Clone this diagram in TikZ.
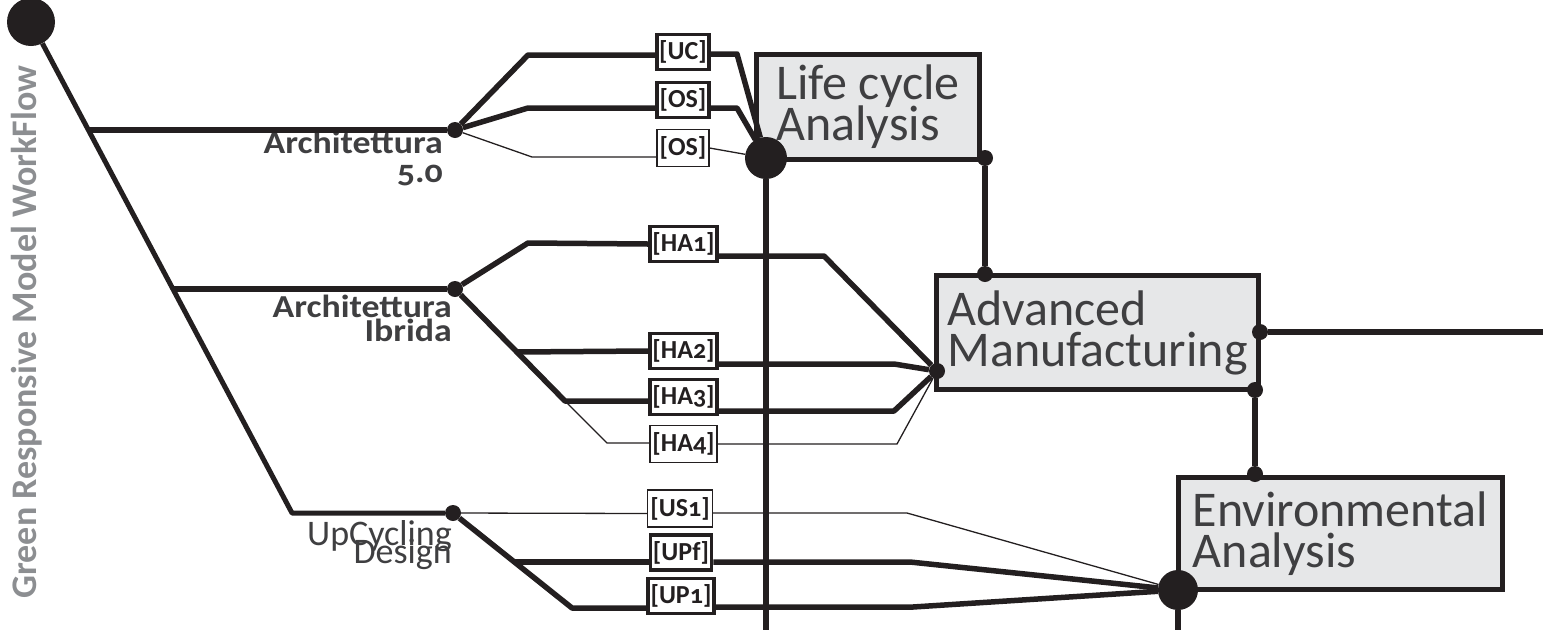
\documentclass[tikz,border=0pt]{standalone}
\usepackage{fontspec}
\setmainfont{Carlito}[Numbers=OldStyle]
\newfontfamily\lblfont{Carlito}[FakeStretch=1.12, Numbers=OldStyle]
\usetikzlibrary{positioning}
\definecolor{ink}{HTML}{231F20}
\definecolor{boxgray}{HTML}{E6E7E8}
\definecolor{textgray}{HTML}{3F3F41}
\definecolor{titlegray}{HTML}{8C8E91}
\lineskiplimit=-100pt

\begin{document}
\begin{tikzpicture}[
  x=1pt, y=-1pt,
  phase/.style={draw=ink, line width=5pt, fill=boxgray, align=left, inner sep=0pt, text=textgray, font=\fontsize{50}{41}\selectfont},
  tag/.style={draw=ink, line width=3.8pt, fill=white, inner xsep=2.5pt, inner ysep=0pt, minimum height=35pt, text=ink, font=\fontsize{26}{26}\selectfont\bfseries},
  tagthin/.style={tag, line width=1.3pt, minimum height=37pt},
  branch/.style={text=textgray, align=right, inner sep=0pt},
  dot/.style={circle, fill=ink, inner sep=0pt, minimum size=16pt},
  bigdot/.style={dot, minimum size=42pt},
  wire/.style={draw=ink, line width=5.5pt, line join=round},
  thinwire/.style={draw=ink, line width=1.3pt, line join=round}
]
\useasboundingbox (0,0) rectangle (1543,630);

% phases
\node[phase, minimum width=223pt, minimum height=105pt] (lca) at (868,107) {Life cycle\\Analysis};
\node[phase, minimum width=322pt, minimum height=114pt] (am) at (1097.5,332.5) {Advanced\\Manufacturing};
\node[phase, minimum width=324pt, minimum height=112pt] (env) at (1340.5,533.5) {Environmental\\Analysis};

% tags
\node[tag] (uc) at (683,52) {[UC]};
\node[tag] (osa) at (683,100) {[OS]};
\node[tagthin] (osb) at (683,148) {[OS]};
\node[tag] (ha1) at (683.5,244) {[HA1]};
\node[tag] (ha2) at (683.5,351) {[HA2]};
\node[tag] (ha3) at (683.5,397) {[HA3]};
\node[tagthin] (ha4) at (683.5,444) {[HA4]};
\node[tagthin] (us1) at (680,508.5) {[US1]};
\node[tag] (upf) at (681,552.5) {[UPf]};
\node[tag] (up1) at (681,596) {[UP1]};

% junctions
\node[dot, minimum size=48pt] (start) at (31,22) {};
\node[dot] (j50) at (455,130) {};
\node[dot] (jib) at (455,289) {};
\node[dot] (jup) at (453,513) {};
\node[bigdot] (jlca) at (766,158) {};
\node[dot] (jlcar) at (985,158) {};
\node[dot] (jamt) at (985,274) {};
\node[dot] (jaml) at (937,371) {};
\node[dot] (jamr) at (1260,332) {};
\node[dot] (jamb) at (1255,390) {};
\node[dot] (jenvt) at (1255,474) {};
\node[bigdot, minimum size=40pt] (jenv) at (1178,590) {};

% labels
\node[rotate=90, anchor=base west, text=titlegray, font=\bfseries\fontsize{36}{36}\selectfont] (title) at (36,602) {Green Responsive Model WorkFlow};
\node[branch, anchor=base east, font=\lblfont\bfseries\fontsize{32}{28.5}\selectfont] (l50) at (443,182) {Architettura\\5.0};
\node[branch, anchor=base east, font=\lblfont\bfseries\fontsize{32}{23.5}\selectfont] (lib) at (452,341) {Architettura\\Ibrida};
\node[branch, anchor=base east, font=\fontsize{36}{18}\selectfont] (lup) at (452,563) {UpCycling\\Design};

\coordinate (k50) at (88.4,130);
\coordinate (kib) at (172.9,289);
\coordinate (kup) at (292,513);
\coordinate (kha2) at (517,352);
\coordinate (kha3) at (565,401);
\coordinate (kupf) at (515,562);
\coordinate (lcaend) at (766,630);
\coordinate (envend) at (1178,630);
\coordinate (amend) at (1543,332);

% trunk
\draw[wire, line width=5pt] (start) -- (kup) -- (jup);
\draw[wire] (k50) -- (j50);
\draw[wire] (kib) -- (jib);

% Architettura 5.0
\draw[wire] (j50) -- (528,55) -- ([yshift=-3pt]uc.west);
\draw[wire] ([yshift=-2pt]uc.east) -- (737,54) -- (jlca);
\draw[wire] (j50) -- (528,108) -- ([yshift=-8pt]osa.west);
\draw[wire] ([yshift=-8pt]osa.east) -- (737,108) -- (jlca);
\draw[thinwire] (j50) -- (532,157) -- ([yshift=-9pt]osb.west);
\draw[thinwire] (osb.east) -- (jlca);

% Architettura Ibrida
\draw[wire] (jib) -- (528,243) -- (ha1.west);
\draw[wire] ([yshift=-12pt]ha1.east) -- (824,256) -- (jaml);
\draw[wire] (jib) -- (kha3) -- ([yshift=-4pt]ha3.west);
\draw[wire] (kha2) -- (ha2.west);
\draw[wire] ([yshift=-13pt]ha2.east) -- (894,364) -- (jaml);
\draw[wire] ([yshift=-14pt]ha3.east) -- (894,411) -- (jaml);
\draw[thinwire] (kha3) -- (607,443) -- ([yshift=1pt]ha4.west);
\draw[thinwire] (ha4.east) -- (897,444) -- (jaml);

% UpCycling Design
\draw[thinwire] (jup) -- ([yshift=-5pt]us1.west);
\draw[thinwire] ([yshift=-4.5pt]us1.east) -- (907,513) -- (jenv);
\draw[wire] (jup) -- (572,608) -- ([yshift=-12pt]up1.west);
\draw[wire] (kupf) -- ([yshift=-9.5pt]upf.west);
\draw[wire] ([yshift=-9.5pt]upf.east) -- (910,562) -- (jenv);
\draw[wire] ([yshift=-11pt]up1.east) -- (913,607) -- (jenv);

% phase links
\draw[wire] (jlca) -- (lcaend);
\draw[wire] (jlcar) -- (jamt);
\draw[wire] (jamb) -- (jenvt);
\draw[wire] (jamr) -- (amend);
\draw[wire] (jenv) -- (envend);
\end{tikzpicture}
\end{document}
